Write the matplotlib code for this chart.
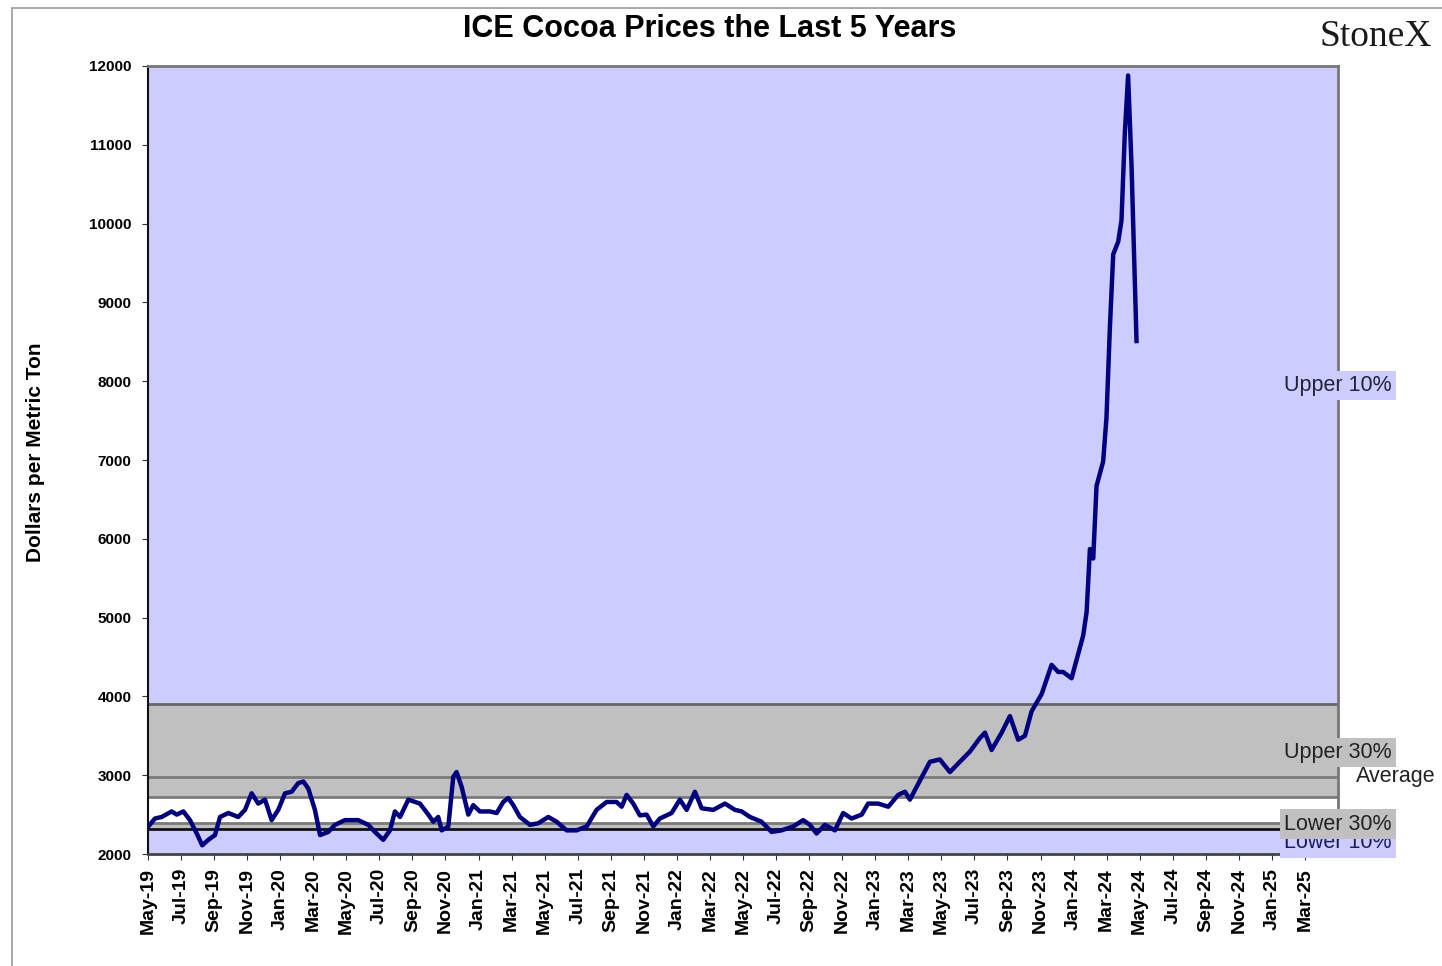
import matplotlib
matplotlib.use("Agg")
import matplotlib.pyplot as plt
from matplotlib.patches import Rectangle

plt.rcParams['font.family'] = ['Liberation Sans', 'DejaVu Sans']

# time in months since May 2019 (Excel month axis), price in $/metric ton
months = [0.02, 0.42, 0.83, 1.43, 1.74, 2.14, 2.54, 2.95, 3.28, 3.65, 4.05, 4.36, 4.86, 5.46, 5.87,
          6.27, 6.67, 7.08, 7.48, 7.88, 8.29, 8.69, 9.09, 9.40, 9.70, 10.10, 10.41, 10.91, 11.31,
          11.92, 12.72, 13.33, 13.73, 14.23, 14.64, 14.94, 15.25, 15.75, 16.45, 16.96, 17.26,
          17.56, 17.77, 18.17, 18.47, 18.67, 18.98, 19.38, 19.68, 20.08, 20.69, 21.10, 21.49,
          21.80, 22.10, 22.50, 23.11, 23.61, 24.22, 24.72, 25.33, 25.93, 26.54, 27.14, 27.75,
          28.35, 28.66, 28.96, 29.36, 29.76, 30.17, 30.57, 30.97, 31.68, 32.18, 32.59, 33.09,
          33.50, 34.20, 34.91, 35.51, 35.92, 36.42, 37.12, 37.73, 38.33, 39.04, 39.64, 40.05,
          40.45, 40.96, 41.56, 42.06, 42.57, 43.18, 43.57, 44.18, 44.79, 45.39, 45.80, 46.10,
          46.70, 47.31, 47.91, 48.52, 49.12, 49.73, 50.33, 50.64, 51.04, 51.65, 52.15, 52.65,
          53.06, 53.46, 54.07, 54.67, 55.07, 55.37, 55.88, 56.18, 56.58, 56.79, 56.99, 57.19,
          57.39, 57.79, 57.99, 58.20, 58.40, 58.70, 58.90, 59.10, 59.30, 59.51, 59.81]
prices = [2350, 2450, 2470, 2540, 2500, 2540, 2430, 2260, 2110, 2180, 2240, 2470, 2520, 2470, 2560,
          2770, 2640, 2690, 2430, 2560, 2770, 2790, 2900, 2920, 2830, 2560, 2240, 2280, 2370,
          2430, 2430, 2370, 2280, 2180, 2300, 2540, 2470, 2690, 2640, 2500, 2410,
          2470, 2300, 2350, 2980, 3040, 2850, 2500, 2620, 2540, 2540, 2520, 2660,
          2710, 2620, 2470, 2370, 2390, 2470, 2410, 2300, 2300, 2350, 2560, 2660,
          2660, 2600, 2750, 2640, 2490, 2500, 2350, 2450, 2520, 2690, 2560, 2790,
          2580, 2560, 2640, 2560, 2540, 2470, 2410, 2280, 2300, 2350, 2430, 2370,
          2260, 2370, 2300, 2520, 2450, 2500, 2640, 2640, 2600, 2750, 2790, 2690,
          2930, 3170, 3200, 3040, 3170, 3300, 3470, 3540, 3320, 3540, 3750, 3450,
          3500, 3810, 4030, 4400, 4310, 4310, 4230, 4460, 4770, 5070, 5870, 5750,
          6670, 6980, 7530, 8690, 9610, 9770, 10040, 11140, 11880, 10720, 8510]

tick_labels = ["May-19", "Jul-19", "Sep-19", "Nov-19", "Jan-20", "Mar-20", "May-20", "Jul-20",
               "Sep-20", "Nov-20", "Jan-21", "Mar-21", "May-21", "Jul-21", "Sep-21", "Nov-21",
               "Jan-22", "Mar-22", "May-22", "Jul-22", "Sep-22", "Nov-22", "Jan-23", "Mar-23",
               "May-23", "Jul-23", "Sep-23", "Nov-23", "Jan-24", "Mar-24", "May-24", "Jul-24",
               "Sep-24", "Nov-24", "Jan-25", "Mar-25"]

# percentile band levels
upper_10 = 3900
average = 2980
upper_30 = 2720
lower_30 = 2390
lower_10 = 2320

LAV = '#CCCCFF'
GRAY = '#C0C0C0'

fig = plt.figure(figsize=(14.42, 9.66), dpi=100)
W, H = 1442, 966
ax = fig.add_axes([148 / W, 1 - 854 / H, (1338 - 148) / W, (854 - 66) / H])
ax.set_xlim(0, 72)
ax.set_ylim(2000, 12000)
ax.set_facecolor(LAV)

ax.axhspan(lower_10, lower_30, color=GRAY, lw=0, zorder=1)
ax.axhspan(lower_30, upper_30, color='white', lw=0, zorder=1)
ax.axhspan(upper_30, upper_10, color=GRAY, lw=0, zorder=1)
for v, c in [(upper_10, '#666666'), (average, '#7a7a7a'), (upper_30, '#7a7a7a'),
             (lower_30, '#7a7a7a'), (lower_10, '#111111')]:
    ax.axhline(v, color=c, lw=2.0, zorder=2)

ax.plot(months, prices, color='#000080', lw=3.2, zorder=3, solid_joinstyle='round')

# band labels
lab_kw = dict(fontsize=15.5, clip_on=False, zorder=6)
ax.text(72, 7950, 'Upper 10%', ha='center', va='center', color='#22223a',
        bbox=dict(facecolor=LAV, edgecolor='none', pad=3), **lab_kw)
ax.text(72, 2140, 'Lower 10%', ha='center', va='center', color='#1a1a66',
        bbox=dict(facecolor=LAV, edgecolor='none', pad=3), fontsize=15.5, clip_on=False, zorder=5)
ax.text(72, 3290, 'Upper 30%', ha='center', va='center', color='#222222',
        bbox=dict(facecolor=GRAY, edgecolor='none', pad=3), **lab_kw)
ax.text(72, 2380, 'Lower 30%', ha='center', va='center', color='#222222',
        bbox=dict(facecolor=GRAY, edgecolor='none', pad=3), **lab_kw)
ax.text(73.1, average, 'Average', ha='left', va='center', color='#222222', **lab_kw)

ax.set_xticks(range(0, 71, 2))
ax.set_xticklabels(tick_labels, rotation=90, fontsize=14, fontweight='bold')
ax.set_yticks(range(2000, 12001, 1000))
ax.set_yticklabels([str(v) for v in range(2000, 12001, 1000)], fontsize=11, fontweight='bold')
ax.tick_params(axis='x', length=4, pad=6, color='#333333')
ax.tick_params(axis='y', length=4, pad=8, color='#333333')

for s in ['top', 'right']:
    ax.spines[s].set_color('#777777')
    ax.spines[s].set_linewidth(2)
ax.spines['left'].set_color('#111111')
ax.spines['left'].set_linewidth(1.5)
ax.spines['bottom'].set_color('#444444')
ax.spines['bottom'].set_linewidth(2)

fig.text(36 / W, 1 - 452 / H, 'Dollars per Metric Ton', rotation=90, ha='center', va='center',
         fontsize=15, fontweight='bold')
fig.text(710 / W, 1 - 29 / H, 'ICE Cocoa Prices the Last 5 Years', ha='center', va='center',
         fontsize=22, fontweight='bold')
fig.text(1376 / W, 1 - 37 / H, 'StoneX', family='Liberation Serif', ha='center', va='center',
         fontsize=27, color='#1a1a1a')

# outer frame
fig.patches.append(Rectangle((12 / W, -0.05), 1.2, 1 - 8 / H + 0.05, transform=fig.transFigure,
                             fill=False, edgecolor='#9a9a9a', lw=1.2, zorder=0))

fig.savefig('out.png', dpi=100)
